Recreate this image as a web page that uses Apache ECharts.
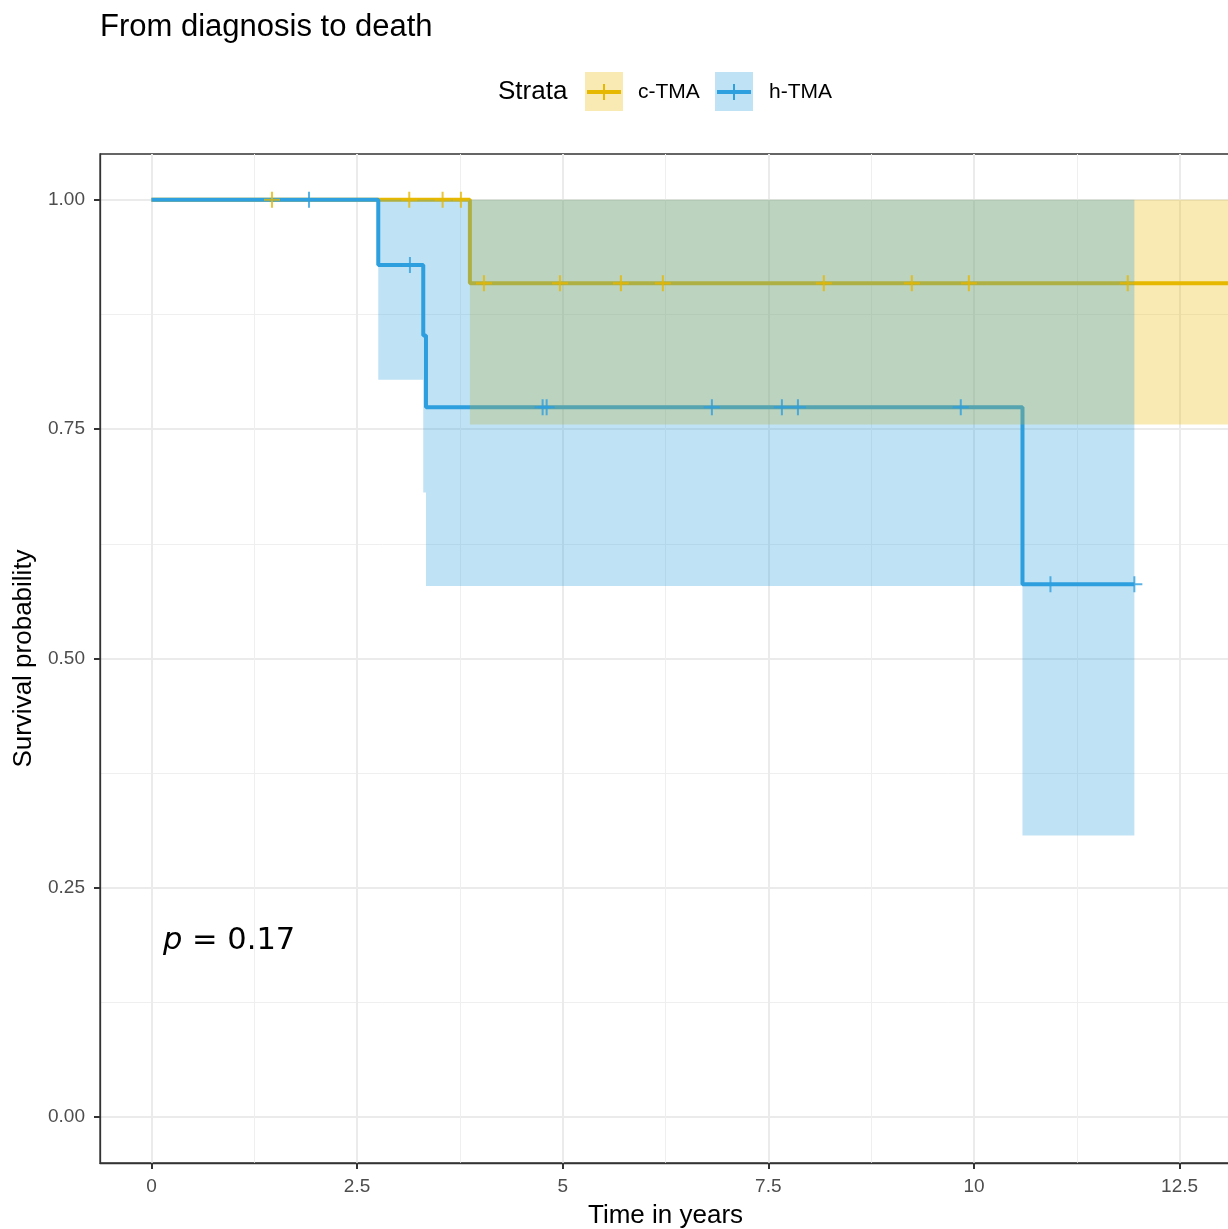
<!DOCTYPE html>
<html>
<head>
<meta charset="utf-8">
<script src="https://cdn.jsdelivr.net/npm/echarts@6/dist/echarts.min.js"></script>
<style>
  html, body { margin: 0; padding: 0; background: #fff; overflow: hidden; }
  #chart { width: 1232px; height: 1229px; }
</style>
</head>
<body>
<div id="chart"></div>
<script>
// ---- data ----
const strata = ['c-TMA', 'h-TMA'];
const colors = ['#E7B800', '#2E9FDF'];

// Kaplan-Meier step curves
const cTmaTime = [0, 3.872, 13.125];
const cTmaSurv = [1, 0.909, 0.909];
const hTmaTime = [0, 2.758, 3.305, 3.338, 10.59, 11.95];
const hTmaSurv = [1, 0.929, 0.852, 0.774, 0.581, 0.581];

// confidence bands
const cTmaCiTime  = [3.872, 13.125];
const cTmaCiLower = [0.755, 0.755];
const cTmaCiUpper = [1.0, 1.0];
const hTmaCiTime  = [2.758, 3.305, 3.338, 10.59, 11.95];
const hTmaCiLower = [0.804, 0.681, 0.579, 0.307, 0.307];
const hTmaCiUpper = [1.0, 1.0, 1.0, 1.0, 1.0];

// censoring marks
const cTmaCensorTime = [1.466, 3.135, 3.54, 3.763, 4.043, 4.967, 5.708, 6.218, 8.175, 9.245, 9.938, 11.87];
const cTmaCensorSurv = [1, 1, 1, 1, 0.909, 0.909, 0.909, 0.909, 0.909, 0.909, 0.909, 0.909];
const hTmaCensorTime = [1.916, 3.143, 4.756, 4.805, 6.814, 7.665, 7.86, 9.84, 10.93, 11.95];
const hTmaCensorSurv = [1, 0.929, 0.774, 0.774, 0.774, 0.774, 0.774, 0.774, 0.581, 0.581];

// axes
const xTicks = [0, 2.5, 5, 7.5, 10, 12.5];
const xTickLabels = ['0', '2.5', '5', '7.5', '10', '12.5'];
const xMinor = [1.25, 3.75, 6.25, 8.75, 11.25];
const yTicks = [0, 0.25, 0.5, 0.75, 1];
const yTickLabels = ['0.00', '0.25', '0.50', '0.75', '1.00'];
const yMinor = [0.125, 0.375, 0.625, 0.875];
const xRange = [-0.625, 13.125];
const yRange = [-0.05, 1.05];

const titleText = 'From diagnosis to death';
const xTitle = 'Time in years';
const yTitle = 'Survival probability';
const legendTitle = 'Strata';
const pText = '0.17';

// ---- build ----
const FONT = 'Liberation Sans, Arial, sans-serif';
const zip = (a, b) => a.map((v, i) => [v, b[i]]);
const crossPath = 'path://M7,0H9V16H7Z M0,7H16V9H0Z';

// step-shaped confidence ribbon drawn as one polygon through the axes' scales
function ribbon(name, t, lo, hi, color) {
  return {
    type: 'custom', name: name + ' CI', z: 3, silent: true, clip: true,
    xAxisIndex: 0, yAxisIndex: 0,
    data: t.map((v, i) => [v, lo[i], hi[i]]),
    encode: { x: 0, y: [1, 2] },
    renderItem: function (params, api) {
      if (params.dataIndexInside !== 0) return null;
      const n = params.dataInsideLength;
      const top = [], bottom = [];
      for (let i = 0; i < n; i++) {
        const x0 = api.value(0, i), l = api.value(1, i), h = api.value(2, i);
        const x1 = i < n - 1 ? api.value(0, i + 1) : x0;
        top.push(api.coord([x0, h]), api.coord([x1, h]));
        bottom.push(api.coord([x0, l]), api.coord([x1, l]));
      }
      const pts = top.concat(bottom.reverse());
      return {
        type: 'polygon', shape: { points: pts },
        style: { fill: color, opacity: 0.3 }
      };
    }
  };
}

const axisTextColor = '#4D4D4D';
const gridLeft = 100, gridTop = 154, gridW = 1131, gridH = 1009;

const option = {
  animation: false,
  backgroundColor: '#ffffff',
  title: {
    text: titleText, left: 100, top: 12, padding: 0,
    textStyle: { fontFamily: FONT, fontSize: 31, fontWeight: 'normal', color: '#000' }
  },
  grid: {
    left: gridLeft, top: gridTop, width: gridW, height: gridH,
    outerBoundsMode: 'none', containLabel: false,
    show: true, borderColor: '#333333', borderWidth: 1.3, backgroundColor: '#fff'
  },
  xAxis: [
    {
      type: 'value', min: xRange[0], max: xRange[1], position: 'bottom',
      name: xTitle, nameLocation: 'middle', nameGap: 40,
      nameTextStyle: { fontFamily: FONT, fontSize: 26, color: '#000' },
      axisLine: { show: true, onZero: false, lineStyle: { color: '#333333', width: 1.3 } },
      axisTick: { show: true, customValues: xTicks, length: 6, lineStyle: { color: '#333', width: 2 } },
      axisLabel: {
        show: true, customValues: xTicks, margin: 14,
        fontFamily: FONT, fontSize: 19, color: axisTextColor,
        formatter: v => { const i = xTicks.findIndex(t => Math.abs(t - v) < 1e-6); return i >= 0 ? xTickLabels[i] : ''; }
      },
      splitLine: { show: true, lineStyle: { color: '#EBEBEB', width: 2 } }
    },
    {
      type: 'value', min: xRange[0], max: xRange[1], position: 'bottom',
      axisLine: { show: false, onZero: false },
      axisTick: { show: false, customValues: xMinor },
      axisLabel: { show: false, customValues: xMinor },
      splitLine: { show: true, lineStyle: { color: '#EFEFEF', width: 1 } }
    }
  ],
  yAxis: [
    {
      type: 'value', min: yRange[0], max: yRange[1], position: 'left',
      name: yTitle, nameLocation: 'middle', nameGap: 63, nameRotate: 90,
      nameTextStyle: { fontFamily: FONT, fontSize: 26, color: '#000' },
      axisLine: { show: true, onZero: false, lineStyle: { color: '#333333', width: 1.3 } },
      axisTick: { show: true, customValues: yTicks, length: 6, lineStyle: { color: '#333', width: 2 } },
      axisLabel: {
        show: true, customValues: yTicks, margin: 15,
        fontFamily: FONT, fontSize: 19, color: axisTextColor,
        formatter: v => { const i = yTicks.findIndex(t => Math.abs(t - v) < 1e-6); return i >= 0 ? yTickLabels[i] : ''; }
      },
      splitLine: { show: true, lineStyle: { color: '#EBEBEB', width: 2 } }
    },
    {
      type: 'value', min: yRange[0], max: yRange[1], position: 'left',
      axisLine: { show: false, onZero: false },
      axisTick: { show: false, customValues: yMinor },
      axisLabel: { show: false, customValues: yMinor },
      splitLine: { show: true, lineStyle: { color: '#EFEFEF', width: 1 } }
    }
  ],
  series: [
    {
      type: 'line', name: strata[0], step: 'end', z: 2, data: zip(cTmaTime, cTmaSurv),
      showSymbol: false, symbol: 'none', lineStyle: { color: colors[0], width: 4 },
      xAxisIndex: 0, yAxisIndex: 0
    },
    {
      type: 'line', name: strata[1], step: 'end', z: 2, data: zip(hTmaTime, hTmaSurv),
      showSymbol: false, symbol: 'none', lineStyle: { color: colors[1], width: 4 },
      xAxisIndex: 0, yAxisIndex: 0
    },
    ribbon(strata[0], cTmaCiTime, cTmaCiLower, cTmaCiUpper, colors[0]),
    ribbon(strata[1], hTmaCiTime, hTmaCiLower, hTmaCiUpper, colors[1]),
    {
      type: 'scatter', name: strata[0] + ' censor', z: 4, data: zip(cTmaCensorTime, cTmaCensorSurv),
      symbol: crossPath, symbolSize: 16, itemStyle: { color: colors[0] }, xAxisIndex: 0, yAxisIndex: 0
    },
    {
      type: 'scatter', name: strata[1] + ' censor', z: 4, data: zip(hTmaCensorTime, hTmaCensorSurv),
      symbol: crossPath, symbolSize: 16, itemStyle: { color: colors[1] }, xAxisIndex: 0, yAxisIndex: 0
    }
  ],
  graphic: [
    // legend
    { type: 'text', x: 498, y: 92, style: { text: legendTitle, fontFamily: FONT, fontSize: 26, fill: '#000', verticalAlign: 'middle' } },
    { type: 'rect', shape: { x: 585, y: 72, width: 38, height: 39 }, style: { fill: 'rgba(231,184,0,0.3)' } },
    { type: 'line', shape: { x1: 587, y1: 92, x2: 621, y2: 92 }, style: { stroke: colors[0], lineWidth: 4 } },
    { type: 'line', shape: { x1: 604, y1: 84, x2: 604, y2: 100 }, style: { stroke: colors[0], lineWidth: 2 } },
    { type: 'text', x: 638, y: 92, style: { text: strata[0], fontFamily: FONT, fontSize: 21, fill: '#000', verticalAlign: 'middle' } },
    { type: 'rect', shape: { x: 715, y: 72, width: 38, height: 39 }, style: { fill: 'rgba(46,159,223,0.3)' } },
    { type: 'line', shape: { x1: 717, y1: 92, x2: 751, y2: 92 }, style: { stroke: colors[1], lineWidth: 4 } },
    { type: 'line', shape: { x1: 734, y1: 84, x2: 734, y2: 100 }, style: { stroke: colors[1], lineWidth: 2 } },
    { type: 'text', x: 769, y: 92, style: { text: strata[1], fontFamily: FONT, fontSize: 21, fill: '#000', verticalAlign: 'middle' } },
    // p-value
    {
      type: 'text', x: 163, y: 941, z: 10,
      style: {
        text: '{i|p} = ' + pText, fontFamily: 'DejaVu Sans', fontSize: 30.5, fill: '#000', verticalAlign: 'middle',
        rich: { i: { fontStyle: 'italic', fontFamily: 'DejaVu Sans', fontSize: 30.5, fill: '#000' } }
      }
    }
  ]
};

const chart = echarts.init(document.getElementById('chart'), null, { renderer: 'canvas' });
chart.setOption(option);
</script>
</body>
</html>
